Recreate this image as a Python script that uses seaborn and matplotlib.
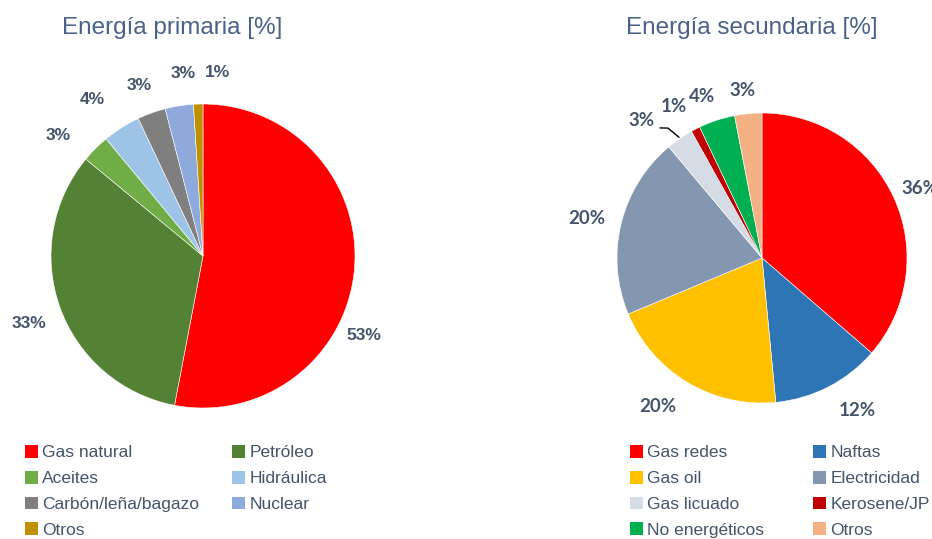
import numpy as np
import matplotlib
matplotlib.use("Agg")
import matplotlib.pyplot as plt
from matplotlib.patches import Patch
import seaborn as sns

# Data ---------------------------------------------------------------------------------------------------------
prim_labels = ['Gas natural', 'Petróleo', 'Aceites', 'Hidráulica', 'Carbón/leña/bagazo', 'Nuclear', 'Otros']
prim_values = [53, 33, 3, 4, 3, 3, 1]
prim_colors = ['#FF0000', '#548235', '#70AD47', '#9DC3E6', '#7F7F7F', '#8EA9DB', '#BF9000']

sec_labels = ['Gas redes', 'Naftas', 'Gas oil', 'Electricidad', 'Gas licuado', 'Kerosene/JP',
              'No energéticos', 'Otros']
sec_values = [36, 12, 20, 20, 3, 1, 4, 3]
sec_colors = ['#FF0000', '#2E75B6', '#FFC000', '#8497B0', '#D6DCE5', '#C00000', '#00B050', '#F4B183']

# label placement (angle in degrees, distance in radii), as Excel "best fit" put them
prim_label_pos = [(-26.4, 1.18), (-158.7, 1.23), (140.2, 1.24), (125.3, 1.26), (110.4, 1.20), (96.2, 1.21),
                  (85.5, 1.21)]
sec_label_pos = [(23.6, 1.19), (-58, 1.24), (-125.1, 1.25), (167.4, 1.24), (131.2, 1.26), (120.3, 1.21),
                 (110.3, 1.19), (96.5, 1.16)]

sns.set_theme(style='white')
plt.rcParams['font.family'] = ['Liberation Sans', 'DejaVu Sans']

W, H = 932, 539
TITLE_C = '#4A6289'
LABEL_C = '#44546A'
LEGEND_C = '#44546A'


def pie_axes(fig, cx, cy, r):
    # axes in pixel coords, unit radius pie fills it
    return fig.add_axes([(cx - r) / W, (H - cy - r) / H, 2 * r / W, 2 * r / H])


def polar(ang, rr):
    return rr * np.cos(np.radians(ang)), rr * np.sin(np.radians(ang))


def draw_pie(ax, values, colors, label_pos, family, size):
    wedges, _, autotexts = ax.pie(values, colors=sns.color_palette(colors), startangle=90, counterclock=False,
                                  autopct=lambda p: '%.0f%%' % p, pctdistance=1.2,
                                  wedgeprops=dict(linewidth=0.4, edgecolor='white'))
    for t, (ang, rr) in zip(autotexts, label_pos):
        t.set_fontfamily(family)
        t.set_fontweight('bold')
        t.set_fontsize(size)
        t.set_color(LABEL_C)
        t.set_position(polar(ang, rr))
    ax.set_xlim(-1, 1)
    ax.set_ylim(-1, 1)
    ax.set_aspect('equal')
    ax.axis('off')
    return wedges


fig = plt.figure(figsize=(W / 100, H / 100), dpi=100)
fig.patch.set_facecolor('white')

# Left pie ------------------------------------------------------------------------------------------------------
ax1 = pie_axes(fig, 203, 256, 152)
draw_pie(ax1, prim_values, prim_colors, prim_label_pos, ['Liberation Sans', 'DejaVu Sans'], 12.5)
fig.text(172 / W, 1 - 28 / H, 'Energía primaria [%]', ha='center', va='center', fontsize=17.5, color=TITLE_C)

# Right pie -----------------------------------------------------------------------------------------------------
ax2 = pie_axes(fig, 762, 258, 145)
draw_pie(ax2, sec_values, sec_colors, sec_label_pos, ['Lato', 'DejaVu Sans'], 13.5)
fig.text(752 / W, 1 - 28 / H, 'Energía secundaria [%]', ha='center', va='center', fontsize=17.5, color=TITLE_C)

# leader line for the Gas licuado label
leader = [polar(128.1, 1.14), polar(125.9, 1.106), polar(124.5, 1.01)]
ax2.plot([p[0] for p in leader], [p[1] for p in leader], color='black', lw=1, clip_on=False)


# Legends (row-major order like the original) ---------------------------------------------------------------------
def legend_handles(labels, colors):
    hs = [Patch(facecolor=c, edgecolor='none', label=l) for l, c in zip(labels, colors)]
    return hs[0::2] + hs[1::2]


h1 = legend_handles(prim_labels, prim_colors)
leg1 = fig.legend(handles=h1, ncol=2, loc='upper left', bbox_to_anchor=(25 / W, 1 - 445 / H), frameon=False,
                  fontsize=12.5, handlelength=0.75, handleheight=0.75, handletextpad=0.25,
                  labelspacing=0.6, columnspacing=1.9, borderpad=0, borderaxespad=0)
for t in leg1.get_texts():
    t.set_color(LEGEND_C)

h2 = legend_handles(sec_labels, sec_colors)
leg2 = fig.legend(handles=h2, ncol=2, loc='upper left', bbox_to_anchor=(630 / W, 1 - 445 / H), frameon=False,
                  fontsize=12.5, handlelength=0.75, handleheight=0.75, handletextpad=0.25,
                  labelspacing=0.6, columnspacing=2.8, borderpad=0, borderaxespad=0)
for t in leg2.get_texts():
    t.set_color(LEGEND_C)

fig.savefig('out.png', dpi=100, facecolor='white')
